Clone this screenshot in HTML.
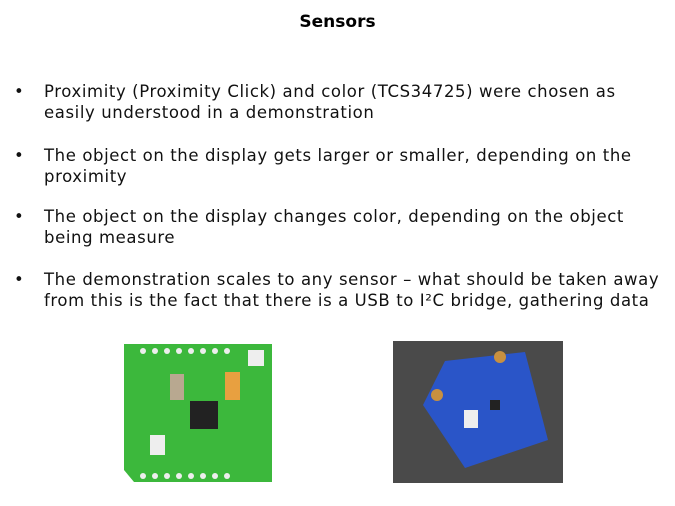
<!DOCTYPE html>
<html><head><meta charset="utf-8"><style>
body{margin:0;width:675px;height:506px;background:#fff;font-family:"DejaVu Sans","Liberation Sans",sans-serif;position:relative;overflow:hidden}
.t{position:absolute;top:12px;left:0;width:675px;text-align:center;font-weight:bold;font-size:17px;color:#000}
.b{position:absolute;left:44px;white-space:nowrap;font-size:16.5px;letter-spacing:0.6px;line-height:20.5px;color:#111}
.b:before{content:"•";position:absolute;left:-30px}
</style></head><body>
<div class="t">Sensors</div>
<div class="b" style="top:82px">Proximity (Proximity Click) and color (TCS34725) were chosen as<br>easily understood in a demonstration</div>
<div class="b" style="top:146px">The object on the display gets larger or smaller, depending on the<br>proximity</div>
<div class="b" style="top:207px">The object on the display changes color, depending on the object<br>being measure</div>
<div class="b" style="top:270px">The demonstration scales to any sensor – what should be taken away<br>from this is the fact that there is a USB to I²C bridge, gathering data</div>
<svg style="position:absolute;left:0;top:0" width="675" height="506">
<path d="M124,344 H272 V482 H134 L124,470 Z" fill="#3cb83c"/>
<g fill="#eee"><circle cx="143" cy="351" r="3"/><circle cx="155" cy="351" r="3"/><circle cx="167" cy="351" r="3"/><circle cx="179" cy="351" r="3"/><circle cx="191" cy="351" r="3"/><circle cx="203" cy="351" r="3"/><circle cx="215" cy="351" r="3"/><circle cx="227" cy="351" r="3"/>
<circle cx="143" cy="476" r="3"/><circle cx="155" cy="476" r="3"/><circle cx="167" cy="476" r="3"/><circle cx="179" cy="476" r="3"/><circle cx="191" cy="476" r="3"/><circle cx="203" cy="476" r="3"/><circle cx="215" cy="476" r="3"/><circle cx="227" cy="476" r="3"/></g>
<rect x="190" y="401" width="28" height="28" fill="#222"/>
<rect x="225" y="372" width="15" height="28" fill="#e8a040"/>
<rect x="170" y="374" width="14" height="26" fill="#b8a890"/>
<rect x="150" y="435" width="15" height="20" fill="#eee"/>
<rect x="248" y="350" width="16" height="16" fill="#eee"/>
<rect x="393" y="341" width="170" height="142" fill="#4a4a4a"/>
<path d="M445,361 L525,352 L548,440 L465,468 L423,405 Z" fill="#2a55c8"/>
<rect x="464" y="410" width="14" height="18" fill="#eee"/>
<g fill="#c89040"><circle cx="437" cy="395" r="6"/><circle cx="500" cy="357" r="6"/></g>
<rect x="490" y="400" width="10" height="10" fill="#222"/>
</svg>
</body></html>
